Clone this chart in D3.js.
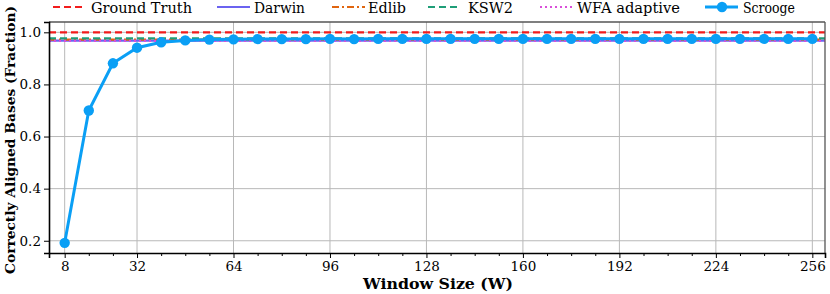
<!DOCTYPE html>
<html><head><meta charset="utf-8">
<script src="https://cdn.jsdelivr.net/npm/d3@7"></script>
<style>body{margin:0;background:#fff}svg{display:block}</style>
</head><body><svg id="c" width="830" height="294"></svg>
<script>
const windowSizes = [8,16,24,32,40,48,56,64,72,80,88,96,104,112,120,128,136,144,152,160,168,176,184,192,200,208,216,224,232,240,248,256];
const scroogeValues = [0.192,0.700,0.881,0.941,0.962,0.969,0.972,0.973,0.974,0.974,0.974,0.975,0.974,0.975,0.975,0.975,0.975,0.975,0.975,0.975,0.975,0.975,0.975,0.975,0.975,0.975,0.975,0.975,0.975,0.975,0.975,0.975];
const baselineNames = ["Ground Truth","Darwin","Edlib","KSW2","WFA adaptive"];
const baselineValues = [1.0,0.968,0.972,0.977,0.967];
const xTicks = [8,32,64,96,128,160,192,224,256];
const yTicks = [0.2,0.4,0.6,0.8,1.0];

const FONT = "DejaVu Serif";
const styles = {
  "Ground Truth":{color:"#f21c1c",dash:"7,4"},
  "Darwin":{color:"#6b63f0",dash:null},
  "Edlib":{color:"#e0650f",dash:"7,3,2,3"},
  "KSW2":{color:"#1f9e78",dash:"7,4"},
  "WFA adaptive":{color:"#d94ed9",dash:"2,3"},
  "Scrooge":{color:"#0a9ff5"}
};

const svg = d3.select("#c");
const L=49,R=825,T=22,B=253;
const x = d3.scaleLinear().domain([2.8,260.2]).range([L,R]);
const y = d3.scaleLinear().domain([0.153,1.0396]).range([B,T]);

const g = svg.append("g");
g.selectAll(".gx").data(xTicks).join("line").attr("x1",d=>x(d)).attr("x2",d=>x(d)).attr("y1",T).attr("y2",B).attr("stroke","#b8b8b8").attr("stroke-width",1);
g.selectAll(".gy").data(yTicks).join("line").attr("y1",d=>y(d)).attr("y2",d=>y(d)).attr("x1",L).attr("x2",R).attr("stroke","#b8b8b8").attr("stroke-width",1);

baselineNames.forEach((n,i)=>{
  const s=styles[n];
  svg.append("line").attr("x1",L).attr("x2",R).attr("y1",y(baselineValues[i])).attr("y2",y(baselineValues[i]))
    .attr("stroke",s.color).attr("stroke-width",2.2).attr("stroke-dasharray",s.dash);
});

const pts = windowSizes.map((w,i)=>[w,scroogeValues[i]]);
svg.append("path").datum(pts).attr("fill","none").attr("stroke",styles.Scrooge.color).attr("stroke-width",3)
  .attr("d",d3.line().x(d=>x(d[0])).y(d=>y(d[1])));
svg.selectAll(".pt").data(pts).join("circle").attr("cx",d=>x(d[0])).attr("cy",d=>y(d[1])).attr("r",5.2).attr("fill",styles.Scrooge.color);

svg.append("line").attr("x1",L).attr("x2",R).attr("y1",T).attr("y2",T).attr("stroke","#555").attr("stroke-width",1.3);
svg.append("line").attr("x1",R).attr("x2",R).attr("y1",T).attr("y2",B).attr("stroke","#555").attr("stroke-width",1.3);

svg.append("g").attr("transform",`translate(0,${B})`)
  .call(d3.axisBottom(x).tickValues(xTicks).tickFormat(d3.format("d")).tickSize(5).tickPadding(3));
const minor = d3.range(8,257,8).filter(v=>!xTicks.includes(v));
svg.append("g").attr("transform",`translate(0,${B})`)
  .call(d3.axisBottom(x).tickValues(minor).tickFormat("").tickSize(3)).call(a=>a.select(".domain").remove());
svg.append("g").attr("transform",`translate(${L},0)`)
  .call(d3.axisLeft(y).tickValues(yTicks).tickFormat(d3.format(".1f")).tickSize(5).tickPadding(3));
svg.selectAll(".domain").attr("stroke","#000").attr("stroke-width",1.6);
svg.selectAll(".tick line").attr("stroke","#000").attr("stroke-width",1);
svg.selectAll("g").attr("font-family",FONT).attr("font-size",13.5);
svg.selectAll(".tick text").attr("fill","#000");

svg.append("text").attr("x",438).attr("y",289).attr("text-anchor","middle").attr("font-family",FONT).attr("font-weight","bold").attr("font-size",14.5)
  .attr("textLength",150).attr("lengthAdjust","spacingAndGlyphs").text("Window Size (W)");
svg.append("text").attr("transform",`translate(15,140) rotate(-90)`).attr("text-anchor","middle").attr("font-family",FONT).attr("font-weight","bold").attr("font-size",13)
  .attr("textLength",268).attr("lengthAdjust","spacingAndGlyphs").text("Correctly Aligned Bases (Fraction)");

const legendItems = ["Ground Truth","Darwin","Edlib","KSW2","WFA adaptive","Scrooge"];
const legLineX = [53,217,332,428,540,705];
const legTextX = [91,254,368,468,577,743];
const legTextW = [101,51,38,45,103,52];
legendItems.forEach((n,i)=>{
  const s=styles[n], lx=legLineX[i], ly=7;
  svg.append("line").attr("x1",lx).attr("x2",lx+33).attr("y1",ly).attr("y2",ly).attr("stroke",s.color)
    .attr("stroke-width",n==="Scrooge"?3:2.2).attr("stroke-dasharray",s.dash||null);
  if(n==="Scrooge") svg.append("circle").attr("cx",lx+17).attr("cy",ly).attr("r",5.2).attr("fill",s.color);
  svg.append("text").attr("x",legTextX[i]).attr("y",13).attr("font-family",FONT).attr("font-size",14.5)
    .attr("textLength",legTextW[i]).attr("lengthAdjust","spacingAndGlyphs").text(n);
});
</script></body></html>
